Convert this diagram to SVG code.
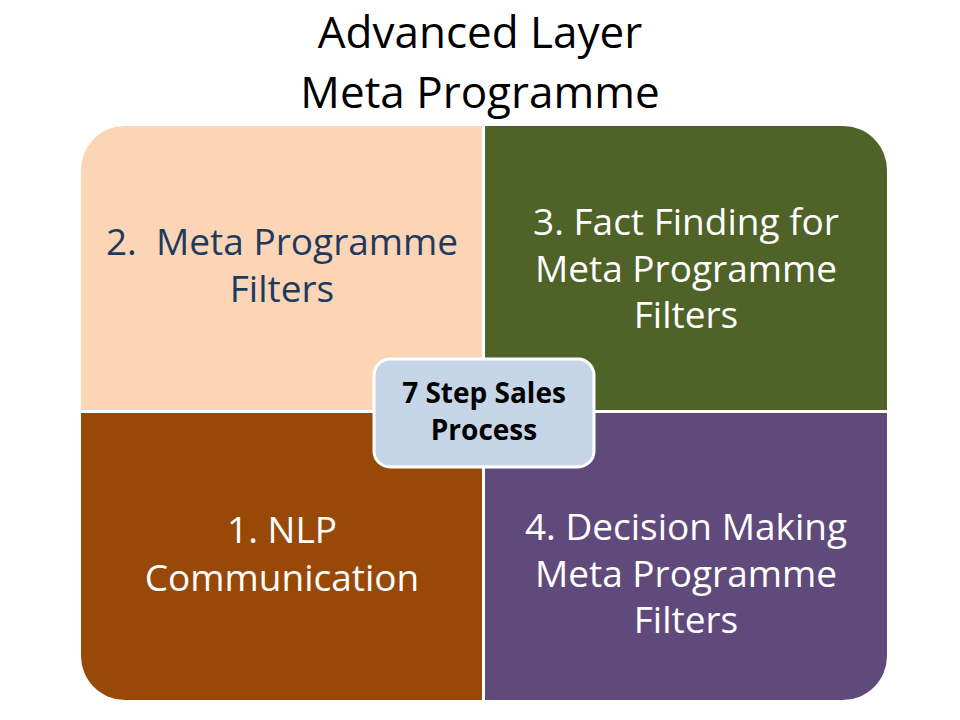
<svg xmlns="http://www.w3.org/2000/svg" width="960" height="720" viewBox="0 0 960 720">
<style>
.t{font-family:"Open Sans","Liberation Sans",sans-serif;text-anchor:middle}
.title{font-size:44px;fill:#000}
.q{font-size:37px;fill:#fff}
.qd{fill:#1f3a5f}
.c{font-family:"Open Sans","Liberation Sans",sans-serif;font-weight:bold;font-size:28px;text-anchor:middle;fill:#000}
</style>
<defs>
<clipPath id="outer"><rect x="81" y="126" width="806" height="574" rx="44" ry="44"/></clipPath>
</defs>
<rect width="960" height="720" fill="#fff"/>
<g id="title">
<text class="t title" x="480" y="47.5">Advanced Layer</text>
<text class="t title" x="480" y="108">Meta Programme</text>
</g>
<g clip-path="url(#outer)">
<g id="q2"><rect x="81" y="126" width="401" height="284" fill="#fbd5b5"/>
<text class="t q qd" x="282" y="255">2. &#160;Meta Programme</text>
<text class="t q qd" x="282" y="302">Filters</text></g>
<g id="q3"><rect x="485" y="126" width="402" height="284" fill="#4f6228"/>
<text class="t q" x="686" y="235">3. Fact Finding for</text>
<text class="t q" x="686" y="282">Meta Programme</text>
<text class="t q" x="686" y="328">Filters</text></g>
<g id="q1"><rect x="81" y="413" width="401" height="287" fill="#984807"/>
<text class="t q" x="282" y="543">1. NLP</text>
<text class="t q" x="282" y="591">Communication</text></g>
<g id="q4"><rect x="485" y="413" width="402" height="287" fill="#604a7b"/>
<text class="t q" x="686" y="540">4. Decision Making</text>
<text class="t q" x="686" y="587">Meta Programme</text>
<text class="t q" x="686" y="633">Filters</text></g>
</g>
<g id="center">
<rect x="374" y="359" width="220" height="108" rx="16" ry="16" fill="#c6d6e8" stroke="#fff" stroke-width="3"/>
<text class="c" x="484" y="403">7 Step Sales</text>
<text class="c" x="484" y="440">Process</text>
</g>
<g id="connectors"/>
</svg>
